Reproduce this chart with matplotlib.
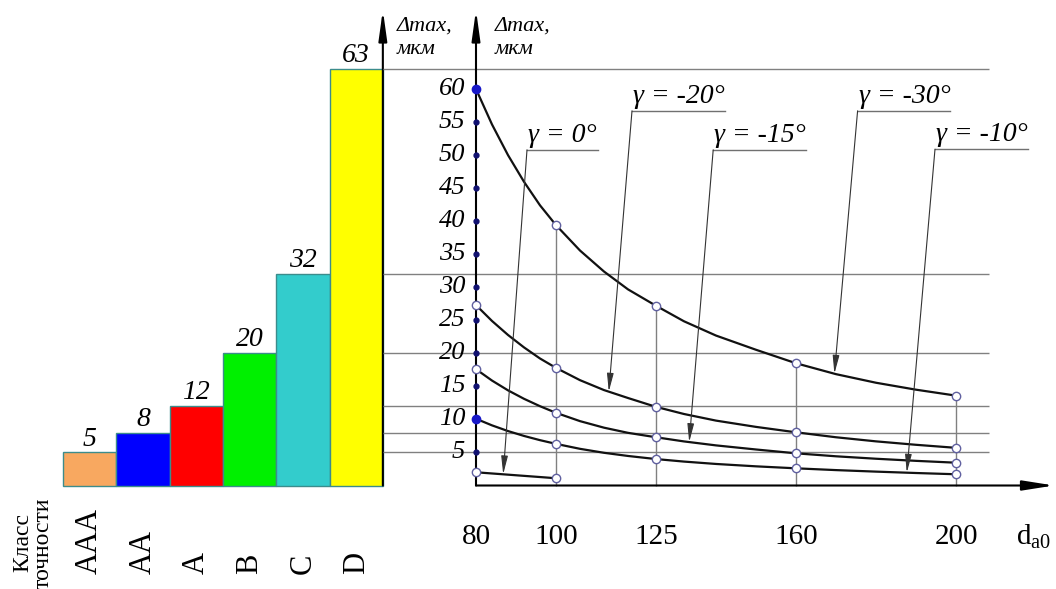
import matplotlib
matplotlib.use("Agg")
import matplotlib.pyplot as plt
import numpy as np

plt.rcParams['font.family'] = ['Liberation Serif', 'DejaVu Serif']

# accuracy classes (left bar chart)
classes = ["AAA", "AA", "A", "B", "C", "D"]
class_tol = [5, 8, 12, 20, 32, 63]
class_colors = ["#F8A860", "#0000FF", "#FF0000", "#00F000", "#33CCCC", "#FFFF00"]

# marked points on the curves
d_marks = [80, 100, 125, 160, 200]
g30_marks = [60, 39.4, 27.2, 18.5, 13.6]
g20_marks = [27.3, 17.8, 11.9, 8.05, 5.7]
g15_marks = [17.6, 11.0, 7.3, 4.87, 3.45]
g10_marks = [10.1, 6.3, 4.0, 2.6, 1.7]
g0_d = [80, 100]
g0_marks = [2.0, 1.1]

# curve traces
d_trace = [80, 84, 88, 92, 96, 100, 106, 112, 118, 125, 132, 140, 150, 160,
           170, 180, 190, 200]
g30_trace = [60, 54.64, 50.0, 45.96, 42.4, 39.4, 35.56, 32.38, 29.68, 27.2,
             24.85, 22.69, 20.54, 18.5, 16.85, 15.55, 14.5, 13.6]
g20_trace = [27.3, 24.9, 22.78, 20.9, 19.22, 17.8, 15.94, 14.44, 13.24, 11.9,
             10.82, 9.82, 8.87, 8.05, 7.3, 6.68, 6.16, 5.7]
g15_trace = [17.6, 15.88, 14.4, 13.12, 12.0, 11.0, 9.74, 8.75, 7.97, 7.3,
             6.67, 6.07, 5.45, 4.87, 4.42, 4.05, 3.73, 3.45]
g10_trace = [10.1, 9.1, 8.24, 7.5, 6.86, 6.3, 5.55, 4.95, 4.47, 4.0,
             3.62, 3.26, 2.9, 2.6, 2.33, 2.1, 1.89, 1.7]

y_ticks = [5, 10, 15, 20, 25, 30, 35, 40, 45, 50, 55, 60]
x_ticks = [80, 100, 125, 160, 200]

gamma_labels = ["γ = 0°", "γ = -20°", "γ = -15°", "γ = -30°", "γ = -10°"]

fig = plt.figure(figsize=(10.56, 5.89), dpi=100)
ax_bar = fig.add_axes([0, 0, 1, 1])
ax = fig.add_axes([0, 0, 1, 1])
ax.patch.set_alpha(0)

ylim = (-103.5 / 6.608, 485.5 / 6.608)
ax_bar.set_xlim(-89.7 / 53.3, (1056 - 89.7) / 53.3)
ax.set_xlim(80 - 476 / 4, 80 + 580 / 4)
for a in (ax_bar, ax):
    a.set_ylim(*ylim)
    a.axis('off')

# --- left: bar chart of accuracy classes
x = np.arange(len(classes))
ax_bar.bar(x, class_tol, width=1, color=class_colors, edgecolor='#3c8c8c', lw=1, zorder=2)
for i, v in enumerate(class_tol):
    ax_bar.annotate(str(v), (i, v), xytext=(0, 5), textcoords='offset points',
                    ha='center', va='baseline', style='italic', fontsize=20)
for i, c in enumerate(classes):
    ax_bar.text(i, -13.4, c, rotation=90, ha='center', va='bottom', fontsize=22)
ax_bar.text(-1.064, -8.7, "Класс\nточности", rotation=90, ha='center', va='center',
            multialignment='center', fontsize=17, linespacing=0.95)
ax_bar.annotate('', xy=(5.5, 71.96), xytext=(5.5, 0),
                arrowprops=dict(arrowstyle='-|>,head_length=1.8,head_width=0.25',
                                color='black', lw=1.5, mutation_scale=10,
                                shrinkA=0, shrinkB=0), zorder=3)

# --- right: curves
ax.hlines(class_tol, 56.75, 208.25, color='#808080', lw=1, zorder=1)
ax.vlines(d_marks[1:], 0, g30_marks[1:], color='#808080', lw=1, zorder=1)

for tr in (g30_trace, g20_trace, g15_trace, g10_trace):
    ax.plot(d_trace, tr, color='#111111', lw=1.6, zorder=3)
ax.plot(g0_d, g0_marks, color='#111111', lw=1.6, zorder=3)

# axes with arrows
ax.annotate('', xy=(224.5, 0), xytext=(80, 0),
            arrowprops=dict(arrowstyle='-|>,head_length=1.9,head_width=0.3',
                            color='black', lw=1.5, mutation_scale=10,
                            shrinkA=0, shrinkB=0), zorder=4)
ax.annotate('', xy=(80, 71.96), xytext=(80, 0),
            arrowprops=dict(arrowstyle='-|>,head_length=1.8,head_width=0.25',
                            color='black', lw=1.5, mutation_scale=10,
                            shrinkA=0, shrinkB=0), zorder=4)

ax.plot([80] * len(y_ticks), y_ticks, 'o', color='#101070', ms=3.5, zorder=5)
for t in y_ticks:
    ax.text(77.3, t, str(t), ha='right', va='center', style='italic', fontsize=19)
for t in x_ticks:
    ax.text(t, -7.8, str(t), ha='center', va='center', fontsize=21)
ax.text(215.0, -7.8, r'$\mathregular{d_{a0}}$', ha='left', va='center', fontsize=21)

# markers
for m in (g30_marks, g20_marks, g15_marks, g10_marks):
    ax.plot(d_marks[1:], m[1:], 'o', mfc='white', mec='#6060a0', ms=6, mew=1, zorder=6)
ax.plot(g0_d, g0_marks, 'o', mfc='white', mec='#6060a0', ms=6, mew=1, zorder=6)
ax.plot([80, 80], [g20_marks[0], g15_marks[0]], 'o', mfc='white', mec='#6060a0',
        ms=6, mew=1, zorder=6)
ax.plot([80, 80], [g30_marks[0], g10_marks[0]], 'o', color='#1818c8', ms=6, zorder=6)

# axis titles
for d0 in (60.2, 84.75):
    ax.text(d0, 69.6, "Δmax,", ha='left', va='center', style='italic', fontsize=16)
    ax.text(d0, 66.0, "мкм", ha='left', va='center', style='italic', fontsize=16)

# leader labels: (underline start d, v, underline length), tip d, curve
curves = [(g0_d, g0_marks), (d_trace, g20_trace), (d_trace, g15_trace),
          (d_trace, g30_trace), (d_trace, g10_trace)]
label_pos = [(92.75, 50.8, 17.75), (119.0, 56.7, 23.25), (139.3, 50.8, 23.25),
             (175.4, 56.7, 23.0), (194.75, 50.9, 23.2)]
tip_d = [86.8, 113.2, 133.3, 169.6, 187.7]
for lab, (d0, v0, L), td, (cd, cv) in zip(gamma_labels, label_pos, tip_d, curves):
    ax.text(d0 + 0.3, v0 + 1.25, lab, ha='left', va='baseline', style='italic', fontsize=20)
    ax.plot([d0, d0 + L], [v0, v0], color='#707070', lw=1)
    tv = np.interp(td, cd, cv)
    ax.annotate('', xy=(td, tv), xytext=(d0, v0),
                arrowprops=dict(arrowstyle='-|>,head_length=1.1,head_width=0.2',
                                color='#333333', lw=0.8, mutation_scale=10,
                                shrinkA=0, shrinkB=0), zorder=4)

fig.savefig("out.png", dpi=100)
